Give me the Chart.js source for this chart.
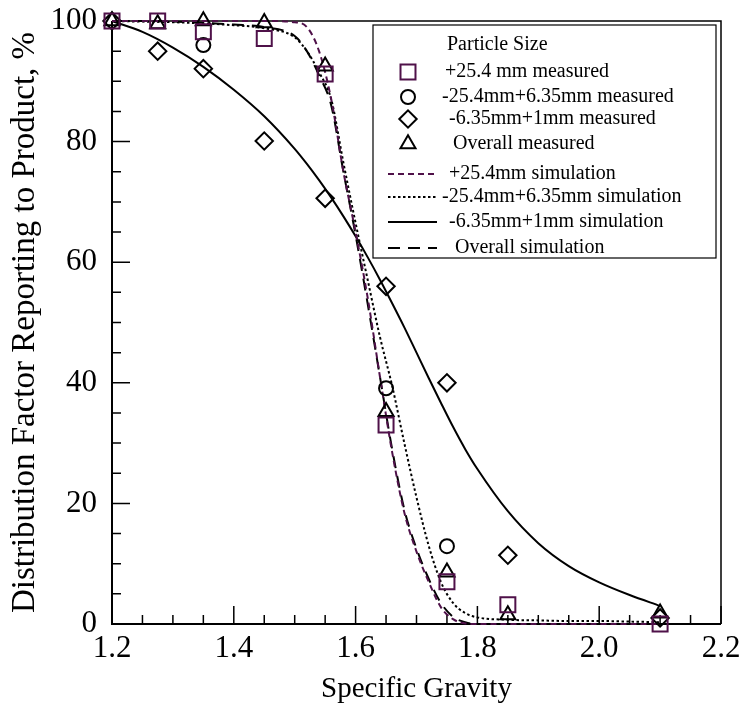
<!DOCTYPE html>
<html>
<head>
<meta charset="utf-8">
<title>Distribution Factor vs Specific Gravity</title>
<script src="https://cdn.jsdelivr.net/npm/chart.js@4.4.1/dist/chart.umd.min.js"></script>
<style>
  html, body { margin: 0; padding: 0; background: #fff; }
  #wrap { width: 739px; height: 717px; position: relative; }
</style>
</head>
<body>
<div id="wrap"><canvas id="sg-chart" width="739" height="717"></canvas></div>
<script>
/* =====================================================
   Distribution factor vs specific gravity
   ===================================================== */

// measured points (null = not visible in the figure)
const sgMeasured      = [1.2, 1.275, 1.35, 1.45, 1.55, 1.65, 1.75, 1.85, 2.1];
const plus254Measured = [100, 100, 98.2, 97.1, 91.2, 33.0, 7.0, 3.2, 0];
const midMeasured     = [null, null, 96.0, null, null, 39.1, 12.9, null, null];
const fineMeasured    = [100, 95.0, 92.1, 80.1, 70.6, 56.0, 40.0, 11.4, 1.0];
const overallMeasured = [100, 99.5, 100, 99.7, 92.5, 35.2, 8.6, 1.5, 1.8];

// simulated curves
const sgSim = [1.2, 1.25, 1.3, 1.35, 1.4, 1.45, 1.5, 1.52, 1.54, 1.56, 1.58, 1.6, 1.62, 1.64,
               1.66, 1.68, 1.7, 1.72, 1.74, 1.76, 1.78, 1.8, 1.85, 1.9, 1.95, 2.0, 2.05, 2.1];
const plus254Sim = [100, 100, 100, 100, 100, 100, 99.8, 99.0, 95.0, 87.0, 75.0, 65.0, 54.0, 41.0,
                    28.5, 18.5, 12.0, 7.0, 2.8, 0.8, 0.1, 0, 0, 0, 0, 0, 0, 0];
const midSim     = [100, 99.9, 99.8, 99.6, 99.3, 98.8, 97.3, 95.0, 91.5, 87.0, 76.5, 66.5, 57.0, 47.6,
                    39.5, 30.0, 21.0, 13.0, 7.0, 3.5, 1.8, 1.1, 0.7, 0.6, 0.5, 0.5, 0.4, 0.3];
const fineSim    = [100, 98.2, 95.6, 92.4, 88.6, 84.2, 78.8, 76.3, 73.6, 70.7, 67.6, 64.3, 60.8, 57.1,
                    53.2, 49.2, 45.0, 40.8, 36.7, 32.7, 29.0, 25.7, 18.7, 13.4, 9.6, 6.9, 4.8, 3.0];
const overallSim = [100, 100, 99.9, 99.7, 99.4, 99.0, 97.5, 95.0, 91.0, 86.0, 75.0, 64.5, 53.0, 41.0,
                    29.0, 19.0, 12.5, 7.5, 3.5, 1.2, 0.3, 0, 0, 0, 0, 0, 0, 0];

// axis ticks
const xTicksMajor = [1.2, 1.4, 1.6, 1.8, 2.0, 2.2];
const yTicksMajor = [0, 20, 40, 60, 80, 100];

const PURPLE = '#4f1149';
const SERIF = '"Liberation Serif", "Times New Roman", serif';

function markerSet(label, values, style, color, radius, order) {
  return {
    label,
    data: sgMeasured.map((x, i) => ({ x, y: values[i] })),
    showLine: false,
    pointStyle: style,
    pointRadius: radius,
    pointHoverRadius: radius,
    pointBorderColor: color,
    pointBackgroundColor: 'rgba(0,0,0,0)',
    pointBorderWidth: 2,
    clip: false,
    order
  };
}

function curveSet(label, values, dash, color, order) {
  return {
    label,
    data: sgSim.map((x, i) => ({ x, y: values[i] })),
    showLine: true,
    pointRadius: 0,
    pointHoverRadius: 0,
    borderColor: color,
    borderWidth: 2,
    borderDash: dash,
    cubicInterpolationMode: 'monotone',
    fill: false,
    clip: false,
    order
  };
}

// frame + inward major/minor ticks, built from the scales
const frameTicks = {
  id: 'frameTicks',
  beforeDatasetsDraw(chart) {
    const { ctx, chartArea: a, scales: { x, y } } = chart;
    ctx.save();
    ctx.strokeStyle = '#000';
    ctx.lineWidth = 1.5;
    ctx.beginPath();
    ctx.moveTo(a.left, a.top); ctx.lineTo(a.right, a.top); ctx.lineTo(a.right, a.bottom);
    ctx.stroke();
    ctx.lineWidth = 2;
    ctx.beginPath();
    ctx.moveTo(a.left, a.top); ctx.lineTo(a.left, a.bottom); ctx.lineTo(a.right, a.bottom);
    ctx.stroke();

    ctx.lineWidth = 1.5;
    ctx.beginPath();
    for (let i = 0; i <= 20; i++) {
      const px = x.getPixelForValue(x.min + i * 0.05);
      const len = i % 4 === 0 ? 18 : 9;
      ctx.moveTo(px, a.bottom); ctx.lineTo(px, a.bottom - len);
    }
    for (let i = 0; i <= 20; i++) {
      const py = y.getPixelForValue(y.min + i * 5);
      const len = i % 4 === 0 ? 18 : 9;
      ctx.moveTo(a.left, py); ctx.lineTo(a.left + len, py);
    }
    ctx.stroke();
    ctx.restore();
  }
};

function drawSymbol(ctx, style, cx, cy, r) {
  ctx.beginPath();
  if (style === 'rect') {
    const s = r * Math.SQRT1_2;
    ctx.rect(cx - s, cy - s, 2 * s, 2 * s);
  } else if (style === 'circle') {
    ctx.arc(cx, cy, r, 0, Math.PI * 2);
  } else if (style === 'rectRot') {
    ctx.moveTo(cx - r, cy); ctx.lineTo(cx, cy - r); ctx.lineTo(cx + r, cy); ctx.lineTo(cx, cy + r);
    ctx.closePath();
  } else if (style === 'triangle') {
    for (let k = 0; k < 3; k++) {
      const ang = k * 2 * Math.PI / 3;
      const px = cx + Math.sin(ang) * r, py = cy - Math.cos(ang) * r;
      k ? ctx.lineTo(px, py) : ctx.moveTo(px, py);
    }
    ctx.closePath();
  }
  ctx.stroke();
}

// boxed legend in the upper right of the plot
const boxLegend = {
  id: 'boxLegend',
  afterDraw(chart) {
    const ctx = chart.ctx;
    const sets = chart.data.datasets;
    ctx.save();
    ctx.fillStyle = '#fff';
    ctx.fillRect(373, 25, 343, 233);
    ctx.strokeStyle = '#000';
    ctx.lineWidth = 1.2;
    ctx.strokeRect(373, 25, 343, 233);

    ctx.font = `20px ${SERIF}`;
    ctx.fillStyle = '#000';
    ctx.textBaseline = 'middle';
    ctx.fillText('Particle Size', 447, 45);

    const rowY = [72, 97, 119, 144, 174, 197, 222, 248];
    const textX = [445, 442, 449, 453, 449, 442, 449, 455];
    sets.forEach((ds, i) => {
      ctx.strokeStyle = ds.showLine ? ds.borderColor : ds.pointBorderColor;
      ctx.lineWidth = 2;
      if (ds.showLine) {
        ctx.setLineDash(ds.borderDash || []);
        ctx.beginPath();
        ctx.moveTo(388, rowY[i]); ctx.lineTo(437, rowY[i]);
        ctx.stroke();
        ctx.setLineDash([]);
      } else {
        drawSymbol(ctx, ds.pointStyle, 408, rowY[i], ds.pointRadius);
      }
      ctx.fillStyle = '#000';
      ctx.fillText(ds.label, textX[i], rowY[i]);
    });
    ctx.restore();
  }
};

new Chart(document.getElementById('sg-chart'), {
  type: 'scatter',
  data: {
    datasets: [
      markerSet('+25.4 mm measured', plus254Measured, 'rect', PURPLE, 10.6, 1),
      markerSet('-25.4mm+6.35mm measured', midMeasured, 'circle', '#000', 7, 3),
      markerSet('-6.35mm+1mm measured', fineMeasured, 'rectRot', '#000', 8.7, 4),
      markerSet('Overall measured', overallMeasured, 'triangle', '#000', 8.7, 2),
      curveSet('+25.4mm simulation', plus254Sim, [6, 4], PURPLE, 5),
      curveSet('-25.4mm+6.35mm simulation', midSim, [2.5, 2.5], '#000', 6),
      curveSet('-6.35mm+1mm simulation', fineSim, [], '#000', 7),
      curveSet('Overall simulation', overallSim, [12, 8], '#000', 8)
    ]
  },
  options: {
    responsive: false,
    animation: false,
    layout: { padding: { top: 21, right: 18, bottom: 0, left: 0 } },
    plugins: { legend: { display: false }, tooltip: { enabled: false } },
    scales: {
      x: {
        type: 'linear',
        min: xTicksMajor[0],
        max: xTicksMajor[xTicksMajor.length - 1],
        grid: { display: false, drawTicks: false },
        border: { display: false },
        afterBuildTicks: s => { s.ticks = xTicksMajor.map(v => ({ value: v })); },
        afterFit: s => { s.height = 93; s.paddingLeft = 0; s.paddingRight = 0; },
        ticks: {
          color: '#000', padding: 6, maxRotation: 0, autoSkip: false,
          font: { family: SERIF, size: 31 },
          callback: v => Number(v).toFixed(1)
        },
        title: {
          display: true, text: 'Specific Gravity', color: '#000',
          font: { family: SERIF, size: 29 }, padding: { top: 0, bottom: 10 }
        }
      },
      y: {
        type: 'linear',
        min: yTicksMajor[0],
        max: yTicksMajor[yTicksMajor.length - 1],
        grid: { display: false, drawTicks: false },
        border: { display: false },
        afterBuildTicks: s => { s.ticks = yTicksMajor.map(v => ({ value: v })); },
        afterFit: s => { s.width = 112; s.paddingTop = 0; s.paddingBottom = 0; },
        ticks: {
          color: '#000', padding: 15, autoSkip: false,
          font: { family: SERIF, size: 31 }
        },
        title: {
          display: true, text: 'Distribution Factor Reporting to Product, %', color: '#000',
          font: { family: SERIF, size: 33 }, padding: { top: 6, bottom: 0 }
        }
      }
    }
  },
  plugins: [frameTicks, boxLegend]
});
</script>
</body>
</html>
